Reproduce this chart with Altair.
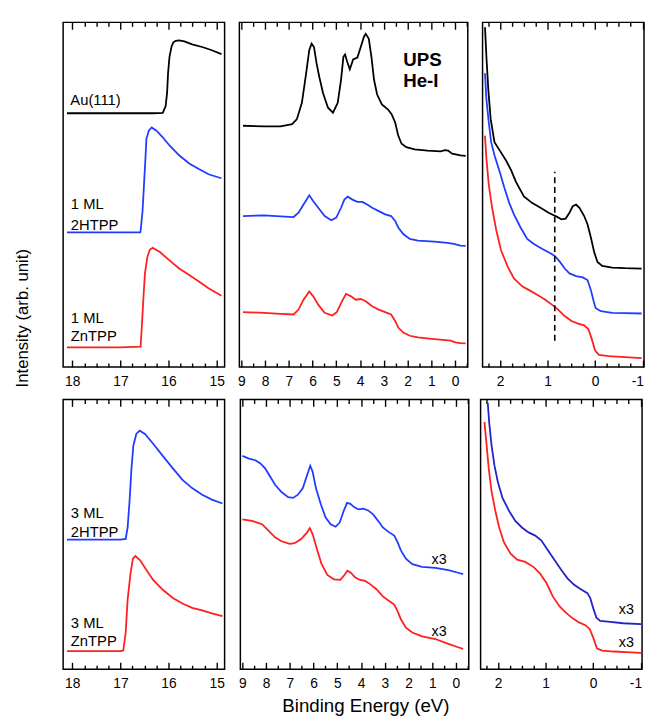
import altair as alt
import pandas as pd

FONT = "Liberation Sans"
BLACK = "#000000"
BLUE = "#1f3cff"
RED = "#ff1f1f"
NAVY = "#2222c8"

# ---------------- data (binding energy eV, intensity arb. unit) ----------------
# top-left: secondary electron cutoff
AU_CUT_E = [18.11, 17.67, 17.00, 16.32, 16.12, 16.06, 16.03, 16.01, 15.98, 15.94, 15.90, 15.85, 15.78, 15.67, 15.51, 15.30, 15.10, 14.90]
AU_CUT_I = [257.7, 257.7, 257.7, 257.7, 258.0, 265.0, 278.3, 298.3, 315.0, 325.0, 329.7, 331.3, 331.7, 330.7, 327.7, 325.0, 321.7, 317.7]
H1_CUT_E = [18.11, 17.67, 17.00, 16.59, 16.58, 16.54, 16.51, 16.48, 16.46, 16.41, 16.35, 16.25, 16.12, 15.98, 15.78, 15.57, 15.37, 15.17, 14.90]
H1_CUT_I = [136.7, 136.7, 136.7, 136.7, 138.3, 158.3, 185.0, 211.7, 231.7, 240.0, 243.3, 240.0, 233.3, 225.0, 215.0, 206.7, 201.0, 195.7, 191.7]
Z1_CUT_E = [18.11, 17.67, 17.00, 16.58, 16.55, 16.52, 16.49, 16.44, 16.39, 16.33, 16.18, 15.98, 15.78, 15.57, 15.37, 15.17, 14.90]
Z1_CUT_I = [20.0, 20.0, 20.0, 20.7, 45.0, 71.7, 95.0, 111.7, 119.0, 121.0, 116.7, 108.3, 100.0, 93.3, 86.7, 80.0, 72.3]

# top-middle: valence band
AU_VB_E = [8.93, 8.04, 7.35, 6.86, 6.66, 6.45, 6.27, 6.14, 6.04, 5.94, 5.83, 5.72, 5.56, 5.35, 5.14, 4.94, 4.80, 4.70, 4.63, 4.54, 4.43, 4.29, 4.11, 3.97, 3.83, 3.76, 3.63, 3.52, 3.41, 3.28, 3.08, 2.83, 2.67, 2.52, 2.39, 2.25, 2.05, 1.70, 1.15, 0.60, 0.43, 0.29, 0.12, -0.23, -0.45]
AU_VB_I = [245.0, 244.3, 244.3, 246.7, 251.7, 268.3, 298.3, 321.7, 328.3, 325.0, 308.3, 295.0, 278.3, 263.3, 258.3, 268.3, 291.7, 315.0, 317.3, 310.0, 302.3, 312.3, 314.3, 325.0, 335.7, 338.3, 333.3, 315.0, 291.7, 276.7, 266.7, 261.7, 256.7, 248.3, 235.0, 226.7, 223.3, 221.0, 219.7, 219.0, 220.3, 219.7, 216.7, 215.0, 214.5]
H1_VB_E = [8.93, 8.04, 7.35, 6.80, 6.59, 6.38, 6.14, 5.97, 5.76, 5.49, 5.21, 5.00, 4.80, 4.66, 4.52, 4.32, 4.11, 3.90, 3.70, 3.49, 3.21, 2.94, 2.69, 2.52, 2.39, 2.18, 1.90, 1.56, 0.87, 0.32, 0.05, -0.23, -0.45]
H1_VB_I = [153.3, 154.0, 153.0, 152.3, 156.7, 165.0, 174.3, 168.3, 161.7, 153.3, 149.0, 151.7, 161.7, 170.0, 173.0, 170.0, 167.7, 167.7, 165.0, 161.7, 158.3, 155.0, 153.3, 148.3, 141.7, 135.0, 130.0, 128.3, 127.3, 126.0, 125.0, 123.3, 123.0]
Z1_VB_E = [8.93, 8.04, 7.35, 6.80, 6.59, 6.38, 6.14, 5.97, 5.76, 5.49, 5.17, 4.98, 4.76, 4.59, 4.38, 4.18, 3.97, 3.76, 3.49, 3.21, 2.94, 2.69, 2.52, 2.39, 2.18, 1.90, 1.56, 0.87, 0.19, -0.02, -0.23, -0.45]
Z1_VB_I = [55.7, 55.0, 54.0, 53.3, 58.3, 68.3, 76.7, 71.7, 63.3, 55.0, 52.3, 55.7, 66.7, 74.3, 71.7, 68.3, 69.0, 66.7, 61.7, 58.3, 55.7, 53.3, 46.7, 40.0, 35.0, 31.7, 30.0, 28.3, 26.7, 25.0, 24.3, 24.0]

# top-right: near Fermi level
AU_EF_E = [2.32, 2.29, 2.25, 2.20, 2.12, 2.01, 1.88, 1.77, 1.67, 1.50, 1.33, 1.15, 0.98, 0.81, 0.71, 0.62, 0.54, 0.47, 0.40, 0.33, 0.23, 0.16, 0.09, 0.02, -0.05, -0.15, -0.36, -0.63, -0.98]
AU_EF_I = [345.0, 315.0, 281.7, 251.7, 228.3, 220.0, 210.0, 200.0, 188.3, 173.3, 166.7, 161.7, 156.7, 152.7, 150.0, 150.7, 156.7, 163.3, 165.0, 161.7, 153.3, 145.0, 131.7, 116.7, 106.7, 102.7, 101.0, 100.3, 100.0]
H1_EF_E = [2.32, 2.29, 2.24, 2.19, 2.12, 2.01, 1.91, 1.81, 1.71, 1.57, 1.43, 1.29, 1.12, 0.95, 0.85, 0.74, 0.64, 0.54, 0.40, 0.26, 0.16, 0.09, 0.03, -0.01, -0.12, -0.36, -0.63, -0.98]
H1_EF_I = [298.3, 271.7, 248.3, 228.3, 215.0, 198.3, 181.7, 166.7, 155.0, 141.7, 130.0, 125.0, 120.0, 115.7, 112.7, 106.7, 100.0, 95.0, 92.3, 91.0, 88.3, 78.3, 66.7, 60.0, 56.7, 55.0, 54.7, 54.3]
Z1_EF_E = [2.32, 2.29, 2.24, 2.17, 2.08, 1.98, 1.84, 1.71, 1.53, 1.40, 1.22, 1.05, 0.91, 0.78, 0.64, 0.50, 0.36, 0.23, 0.14, 0.07, 0.00, -0.08, -0.29, -0.63, -0.98]
Z1_EF_I = [235.0, 211.7, 185.0, 161.7, 138.3, 118.3, 101.7, 90.0, 81.7, 78.3, 73.3, 68.3, 63.3, 58.3, 51.7, 46.7, 44.0, 42.3, 38.3, 28.3, 16.7, 12.3, 11.0, 10.0, 9.0]
MARK_E = [0.85]
MARK_LO = [26.7]
MARK_HI = [198.3]

# bottom-left: 3 ML cutoff
H3_CUT_E = [18.11, 17.67, 17.00, 16.89, 16.85, 16.81, 16.77, 16.73, 16.67, 16.60, 16.49, 16.32, 16.12, 15.91, 15.71, 15.51, 15.30, 15.10, 14.88]
H3_CUT_I = [131.7, 131.7, 131.7, 132.3, 144.0, 170.7, 204.0, 227.3, 239.0, 242.3, 239.0, 229.0, 216.7, 204.0, 192.3, 184.0, 177.3, 172.3, 168.3]
Z3_CUT_E = [18.11, 17.67, 17.00, 16.94, 16.89, 16.85, 16.79, 16.74, 16.69, 16.59, 16.46, 16.32, 16.12, 15.91, 15.71, 15.51, 15.30, 15.10, 14.88]
Z3_CUT_I = [18.3, 18.3, 18.3, 19.0, 37.3, 70.7, 97.3, 112.3, 115.0, 110.7, 100.7, 90.7, 80.7, 72.3, 66.7, 62.3, 59.7, 56.7, 54.0]

# bottom-middle: 3 ML valence band (x3)
H3_VB_E = [9.00, 8.72, 8.45, 8.24, 8.04, 7.83, 7.62, 7.35, 7.07, 6.86, 6.66, 6.45, 6.27, 6.14, 6.04, 5.90, 5.69, 5.49, 5.28, 5.07, 4.90, 4.73, 4.59, 4.45, 4.29, 4.11, 3.90, 3.70, 3.49, 3.28, 3.08, 2.87, 2.60, 2.46, 2.32, 2.11, 1.84, 1.43, 0.87, 0.32, -0.09, -0.30]
H3_VB_I = [216.7, 214.0, 212.3, 209.0, 204.0, 195.7, 187.3, 180.0, 174.7, 174.0, 177.3, 184.0, 197.3, 206.7, 200.7, 184.0, 167.3, 154.0, 147.3, 144.7, 149.0, 160.7, 169.0, 168.0, 164.7, 162.3, 163.0, 161.3, 157.3, 150.7, 144.0, 140.0, 135.7, 129.0, 120.7, 112.3, 106.7, 104.0, 103.0, 100.7, 98.0, 96.7]
Z3_VB_E = [9.00, 8.59, 8.17, 7.90, 7.62, 7.35, 7.00, 6.80, 6.52, 6.27, 6.16, 6.04, 5.86, 5.67, 5.42, 5.14, 4.87, 4.70, 4.57, 4.43, 4.25, 4.04, 3.83, 3.63, 3.35, 3.08, 2.80, 2.60, 2.46, 2.32, 2.11, 1.84, 1.43, 0.87, 0.32, -0.09, -0.30]
Z3_VB_I = [152.3, 150.7, 147.3, 140.7, 134.0, 130.0, 127.3, 128.0, 132.3, 139.0, 143.3, 137.3, 122.3, 107.3, 95.7, 91.3, 90.7, 95.7, 100.0, 98.0, 93.3, 90.7, 89.7, 86.7, 81.3, 74.0, 69.0, 65.7, 59.0, 50.7, 42.3, 37.3, 33.3, 30.7, 25.7, 22.3, 20.7]

# bottom-right: 3 ML near Fermi level (x3)
H3_EF_E = [2.22, 2.19, 2.14, 2.08, 2.01, 1.91, 1.77, 1.64, 1.50, 1.36, 1.22, 1.09, 0.95, 0.81, 0.67, 0.54, 0.40, 0.26, 0.12, 0.06, 0.00, -0.07, -0.15, -0.36, -0.63, -1.01]
H3_EF_I = [270.7, 250.7, 227.3, 207.3, 190.7, 174.0, 160.7, 150.7, 144.0, 139.0, 135.7, 130.7, 120.7, 110.7, 100.7, 92.3, 85.7, 81.3, 77.3, 72.3, 62.3, 52.3, 49.0, 48.0, 46.7, 45.7]
Z3_EF_E = [2.29, 2.25, 2.20, 2.14, 2.06, 1.98, 1.88, 1.74, 1.60, 1.43, 1.26, 1.12, 0.98, 0.85, 0.71, 0.57, 0.43, 0.29, 0.16, 0.07, 0.00, -0.08, -0.19, -0.43, -0.70, -1.01]
Z3_EF_I = [251.3, 230.7, 204.0, 180.7, 160.7, 144.0, 129.0, 117.3, 111.3, 109.0, 104.0, 97.3, 87.3, 74.0, 64.0, 57.3, 51.7, 47.3, 44.7, 40.7, 32.3, 21.3, 19.0, 18.0, 17.3, 16.7]

# axis ticks
CUT_MAJOR = [18, 17, 16, 15]
CUT_MINOR = [17.75, 17.5, 17.25, 16.75, 16.5, 16.25, 15.75, 15.5, 15.25]
VB_MAJOR = [9, 8, 7, 6, 5, 4, 3, 2, 1, 0]
VB_MINOR = [8.5, 7.5, 6.5, 5.5, 4.5, 3.5, 2.5, 1.5, 0.5, -0.5]
EF_MAJOR = [2, 1, 0, -1]
EF_MINOR = [2.25, 1.75, 1.5, 1.25, 0.75, 0.5, 0.25, -0.25, -0.5, -0.75]

CUT_DOMAIN = [14.835, 18.19]
VB_DOMAIN = [-0.54, 9.083]
EF_DOMAIN = [-1.031, 2.371]
TOP_Y = [0, 350]
BOT_Y = [0, 274]

# annotations
TL_TEXT = ["Au(111)", "1 ML", "2HTPP", "1 ML", "ZnTPP"]
TL_E = [18.04, 18.03, 18.03, 18.03, 18.03]
TL_I = [270.7, 165.0, 144.3, 50.0, 31.0]
TM_TEXT = ["UPS", "He-I"]
TM_E = [2.18, 2.18]
TM_I = [311.3, 290.0]
BL_TEXT = ["3 ML", "2HTPP", "3 ML", "ZnTPP"]
BL_E = [18.03, 18.03, 18.03, 18.03]
BL_I = [158.3, 139.0, 46.7, 28.3]
BM_TEXT = ["x3", "x3"]
BM_E = [0.71, 0.71]
BM_I = [110.7, 37.3]
BR_TEXT = ["x3", "x3"]
BR_E = [-0.70, -0.70]
BR_I = [60.3, 26.7]

X_TITLE = "Binding Energy (eV)"
Y_TITLE = "Intensity (arb. unit)"


def curve_df(series):
    rows = []
    for name, color, es, iis in series:
        for e, i in zip(es, iis):
            rows.append({"E": e, "I": i, "s": name, "c": color})
    return pd.DataFrame(rows)


def tick_axis(values, orient, size, labels=False, title=None, right_flush=False):
    kw = dict(values=values, orient=orient, offset=-size, tickSize=size, tickWidth=1.4,
              tickColor="black", domain=False, grid=False, labels=labels, title=title,
              minExtent=0)
    if labels:
        kw.update(labelFont=FONT, labelFontSize=14, labelColor="black", labelPadding=8,
                  labelFlush=False, labelOverlap=False, labelExpr="datum.value + ''")
        if right_flush:
            kw.update(
                labelAlign={"condition": {"test": "datum.value < -0.5", "value": "right"}, "value": "center"},
                labelOffset={"condition": {"test": "datum.value < -0.5", "value": 1}, "value": 0},
            )
    else:
        kw.update(maxExtent=0)
    if title:
        kw.update(titleFont=FONT, titleFontSize=19, titleFontWeight="normal", titleColor="black",
                  titlePadding=6, titleX=127)
    return alt.Axis(**kw)


def y_axis(title):
    if title is None:
        return None
    return alt.Axis(title=title, orient="left", labels=False, ticks=False, domain=False, grid=False,
                    titleFont=FONT, titleFontSize=17, titleFontWeight="normal", titleColor="black",
                    titleAngle=270, titleAlign="center", titleBaseline="middle",
                    titleX=-41, titleY=300)


def panel(series, xdom, ydom, width, height, major, minor, texts=None, bold_texts=None,
          center_texts=None, marker=None, title=None, ytitle=None, right_flush=False):
    xs = alt.Scale(domain=xdom, reverse=True, nice=False, zero=False)
    ys = alt.Scale(domain=ydom, nice=False, zero=False)
    df = curve_df(series)
    base = alt.Chart(df)
    layers = [
        base.mark_line(strokeWidth=1.8).encode(
            x=alt.X("E:Q", scale=xs, axis=tick_axis(major, "bottom", 7, labels=True, title=title,
                                                    right_flush=right_flush)),
            y=alt.Y("I:Q", scale=ys, axis=y_axis(ytitle)),
            color=alt.Color("c:N", scale=None),
            detail="s:N",
        )
    ]
    for vals, orient, size in [(major, "top", 7), (minor, "bottom", 4), (minor, "top", 4)]:
        layers.append(
            base.mark_line(strokeOpacity=0).encode(
                x=alt.X("E:Q", scale=xs, axis=tick_axis(vals, orient, size)),
                y=alt.Y("I:Q", scale=ys, axis=None),
                detail="s:N",
            )
        )
    if marker is not None:
        mdf = pd.DataFrame({"E": marker[0], "lo": marker[1], "hi": marker[2]})
        layers.append(
            alt.Chart(mdf).mark_rule(color="black", strokeWidth=1.6, strokeDash=[6, 4]).encode(
                x=alt.X("E:Q", scale=xs, axis=None),
                y=alt.Y("lo:Q", scale=ys, axis=None),
                y2="hi:Q",
            )
        )
    for tset, align, size, weight in [(texts, "left", 15, "normal"), (bold_texts, "left", 19, "bold"),
                                      (center_texts, "center", 14.5, "normal")]:
        if tset is None:
            continue
        tdf = pd.DataFrame({"t": tset[0], "E": tset[1], "I": tset[2]})
        layers.append(
            alt.Chart(tdf).mark_text(font=FONT, fontSize=size, fontWeight=weight, align=align,
                                     baseline="middle", color="black").encode(
                x=alt.X("E:Q", scale=xs, axis=None),
                y=alt.Y("I:Q", scale=ys, axis=None),
                text="t:N",
            )
        )
    return (alt.layer(*layers).resolve_axis(x="independent", y="independent")
            .properties(width=width, height=height))


W_CUT, W_VB, W_EF = 164, 232, 164
H_TOP, H_BOT = 350, 274

p_tl = panel([("Au(111)", BLACK, AU_CUT_E, AU_CUT_I), ("1 ML 2HTPP", BLUE, H1_CUT_E, H1_CUT_I),
              ("1 ML ZnTPP", RED, Z1_CUT_E, Z1_CUT_I)],
             CUT_DOMAIN, TOP_Y, W_CUT, H_TOP, CUT_MAJOR, CUT_MINOR, texts=(TL_TEXT, TL_E, TL_I),
             ytitle=Y_TITLE)
p_tm = panel([("Au(111)", BLACK, AU_VB_E, AU_VB_I), ("1 ML 2HTPP", BLUE, H1_VB_E, H1_VB_I),
              ("1 ML ZnTPP", RED, Z1_VB_E, Z1_VB_I)],
             VB_DOMAIN, TOP_Y, W_VB, H_TOP, VB_MAJOR, VB_MINOR, bold_texts=(TM_TEXT, TM_E, TM_I))
p_tr = panel([("Au(111)", BLACK, AU_EF_E, AU_EF_I), ("1 ML 2HTPP", BLUE, H1_EF_E, H1_EF_I),
              ("1 ML ZnTPP", RED, Z1_EF_E, Z1_EF_I)],
             EF_DOMAIN, TOP_Y, W_EF, H_TOP, EF_MAJOR, EF_MINOR,
             marker=(MARK_E, MARK_LO, MARK_HI), right_flush=True)
p_bl = panel([("3 ML 2HTPP", BLUE, H3_CUT_E, H3_CUT_I), ("3 ML ZnTPP", RED, Z3_CUT_E, Z3_CUT_I)],
             CUT_DOMAIN, BOT_Y, W_CUT, H_BOT, CUT_MAJOR, CUT_MINOR, texts=(BL_TEXT, BL_E, BL_I))
p_bm = panel([("3 ML 2HTPP", BLUE, H3_VB_E, H3_VB_I), ("3 ML ZnTPP", RED, Z3_VB_E, Z3_VB_I)],
             VB_DOMAIN, BOT_Y, W_VB, H_BOT, VB_MAJOR, VB_MINOR,
             center_texts=(BM_TEXT, BM_E, BM_I), title=X_TITLE)
p_br = panel([("3 ML 2HTPP", NAVY, H3_EF_E, H3_EF_I), ("3 ML ZnTPP", RED, Z3_EF_E, Z3_EF_I)],
             EF_DOMAIN, BOT_Y, W_EF, H_BOT, EF_MAJOR, EF_MINOR,
             center_texts=(BR_TEXT, BR_E, BR_I), right_flush=True)

chart = alt.vconcat(
    alt.hconcat(p_tl, p_tm, p_tr, spacing=10),
    alt.hconcat(p_bl, p_bm, p_br, spacing=10),
    spacing=8,
).properties(
    padding={"left": 5, "top": 7, "right": 0, "bottom": 0}
).configure_view(stroke="black", strokeWidth=1.5)

chart.save("out.html", embed_options={"renderer": "svg", "actions": False})
